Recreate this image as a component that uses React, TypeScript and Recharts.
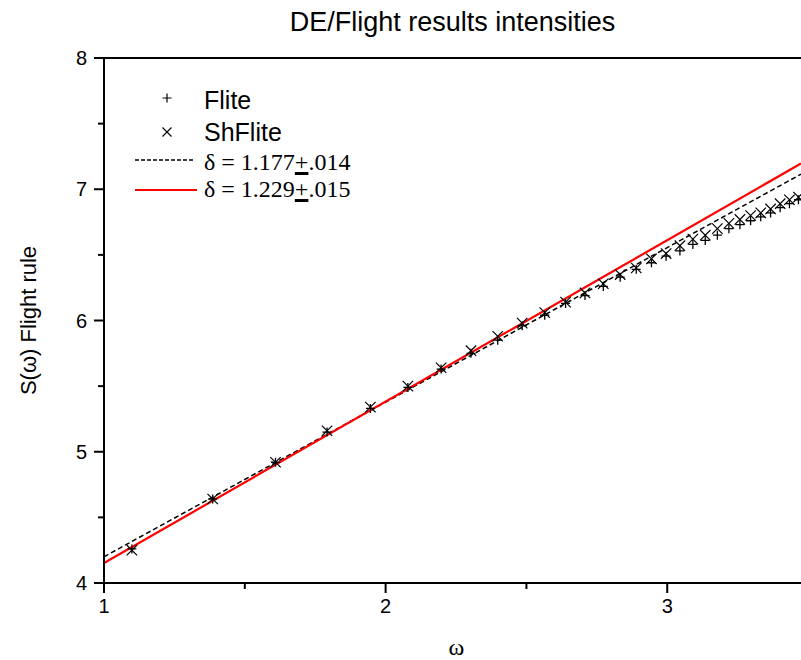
import {
  ComposedChart,
  Scatter,
  Line,
  XAxis,
  YAxis,
  ReferenceLine,
  Legend,
} from "recharts"

// omega values of the measured points
const omega = [
  1.099, 1.386, 1.609, 1.792, 1.946, 2.079, 2.197, 2.303, 2.398, 2.485,
  2.565, 2.639, 2.708, 2.773, 2.833, 2.89, 2.944, 2.996, 3.045, 3.091,
  3.135, 3.178, 3.219, 3.258, 3.296, 3.332, 3.367, 3.401, 3.434, 3.466,
]

// S(omega), Flite (+)
const flite = [
  4.26, 4.64, 4.92, 5.15, 5.33, 5.49, 5.63, 5.75, 5.85, 5.96,
  6.04, 6.13, 6.19, 6.26, 6.33, 6.39, 6.44, 6.49, 6.53, 6.58,
  6.61, 6.65, 6.7, 6.73, 6.76, 6.79, 6.82, 6.86, 6.89, 6.92,
]

// S(omega), ShFlite (x)
const shFlite = [
  4.25, 4.64, 4.92, 5.16, 5.34, 5.5, 5.64, 5.77, 5.88, 5.98,
  6.06, 6.14, 6.21, 6.28, 6.35, 6.4, 6.47, 6.51, 6.57, 6.62,
  6.65, 6.7, 6.74, 6.77, 6.8, 6.82, 6.85, 6.89, 6.92, 6.94,
]

// fitted lines, end points
const fitX = [1, 3.475]
const fitDashed = [4.2, 7.115]
const fitRed = [4.152, 7.196]

const xTicks = [1, 1.5, 2, 2.5, 3]
const yTicks = [4, 4.5, 5, 5.5, 6, 6.5, 7, 7.5, 8]

const title = "DE/Flight results intensities"
const yLabel = "S(\u03c9) Flight rule"
const xLabel = "\u03c9"

const sans = "'Liberation Sans', Arial, sans-serif"
const serif = "'Liberation Serif', 'Times New Roman', serif"

const flitePts = omega.map((x, i) => ({ x, y: flite[i] }))
const shFlitePts = omega.map((x, i) => ({ x, y: shFlite[i] }))
const dashedPts = fitX.map((x, i) => ({ x, y: fitDashed[i] }))
const redPts = fitX.map((x, i) => ({ x, y: fitRed[i] }))

const TICK = 10
const X_MARGIN = 6
const Y_MARGIN = 7

function XTick(props: any) {
  const { x, y, payload } = props
  const v = payload.value
  const major = Number.isInteger(v)
  const axisY = y - TICK - X_MARGIN
  return (
    <g>
      <line x1={x} x2={x} y1={axisY} y2={axisY + (major ? TICK : 6)} stroke="#000" strokeWidth={2} />
      {major && (
        <text x={x} y={y} dy="0.71em" textAnchor="middle" fontFamily={sans} fontSize={20} fill="#000">
          {v}
        </text>
      )}
    </g>
  )
}

function YTick(props: any) {
  const { x, y, payload } = props
  const v = payload.value
  const major = Number.isInteger(v)
  const axisX = x + TICK + Y_MARGIN
  return (
    <g>
      <line x1={axisX - (major ? TICK : 6)} x2={axisX} y1={y} y2={y} stroke="#000" strokeWidth={2} />
      {major && (
        <text x={x} y={y} dy="0.355em" textAnchor="end" fontFamily={sans} fontSize={20} fill="#000">
          {v}
        </text>
      )}
    </g>
  )
}

function PlusShape(props: any) {
  const { cx, cy } = props
  const r = 4.5
  return (
    <path
      d={`M${cx - r},${cy}L${cx + r},${cy}M${cx},${cy - r}L${cx},${cy + r}`}
      stroke="#000"
      strokeWidth={1.3}
      fill="none"
    />
  )
}

function CrossShape(props: any) {
  const { cx, cy } = props
  const r = 5.2
  return (
    <path
      d={`M${cx - r},${cy - r}L${cx + r},${cy + r}M${cx - r},${cy + r}L${cx + r},${cy - r}`}
      stroke="#000"
      strokeWidth={1.2}
      fill="none"
    />
  )
}

function LegendBox() {
  const row = (top: number, child: any) => (
    <div style={{ position: "absolute", left: 74, top: top - 15, height: 30, lineHeight: "30px", whiteSpace: "nowrap" }}>
      {child}
    </div>
  )
  const pm = (
    <span style={{ textDecoration: "underline", textDecorationThickness: "3px", textUnderlineOffset: "2px" }}>+</span>
  )
  return (
    <div style={{ position: "relative", width: 260, height: 130, color: "#000" }}>
      <svg width={260} height={130} style={{ position: "absolute", left: 0, top: 0 }}>
        <path d="M32.5,18L41.5,18M37,13.5L37,22.5" stroke="#000" strokeWidth={1.2} />
        <path d="M32.5,47.5L41.5,56.5M32.5,56.5L41.5,47.5" stroke="#000" strokeWidth={1.1} />
        <line x1={5} x2={63} y1={80} y2={80} stroke="#000" strokeWidth={1.5} strokeDasharray="4 2" />
        <line x1={5} x2={67} y1={110} y2={110} stroke="#ff0000" strokeWidth={2.2} />
      </svg>
      {row(19.5, <span style={{ fontFamily: sans, fontSize: 25 }}>Flite</span>)}
      {row(51.5, <span style={{ fontFamily: sans, fontSize: 25 }}>ShFlite</span>)}
      {row(82, <span style={{ fontFamily: serif, fontSize: 24 }}>{"\u03b4 = 1.177"}{pm}{".014"}</span>)}
      {row(109, <span style={{ fontFamily: serif, fontSize: 24 }}>{"\u03b4 = 1.229"}{pm}{".015"}</span>)}
    </div>
  )
}

export default function App() {
  return (
    <div style={{ position: "absolute", left: 0, top: 0, width: 801, height: 660, background: "#fff" }}>
      <ComposedChart
        width={801}
        height={660}
        margin={{ top: 58, right: 0, bottom: 0, left: 0 }}
      >
        <XAxis
          type="number"
          dataKey="x"
          domain={[1, 3.475]}
          allowDataOverflow
          ticks={xTicks}
          interval={0}
          tickSize={TICK}
          tickMargin={X_MARGIN}
          tickLine={false}
          tick={<XTick />}
          axisLine={{ stroke: "#000", strokeWidth: 2 }}
          height={77}
          label={{
            content: (p: any) => (
              <text
                x={p.viewBox.x + p.viewBox.width / 2 + 4}
                y={655}
                textAnchor="middle"
                fontFamily={serif}
                fontSize={24}
                fill="#000"
              >
                {xLabel}
              </text>
            ),
          }}
        />
        <YAxis
          type="number"
          domain={[4, 8]}
          allowDataOverflow
          ticks={yTicks}
          interval={0}
          tickSize={TICK}
          tickMargin={Y_MARGIN}
          tickLine={false}
          tick={<YTick />}
          axisLine={{ stroke: "#000", strokeWidth: 2 }}
          width={104}
          label={{
            content: (p: any) => {
              const cy = p.viewBox.y + p.viewBox.height / 2
              return (
                <text
                  x={36}
                  y={cy}
                  transform={`rotate(-90, 36, ${cy})`}
                  textAnchor="middle"
                  fontFamily={sans}
                  fontSize={22}
                  fill="#000"
                >
                  {yLabel}
                </text>
              )
            },
          }}
        />
        <ReferenceLine
          y={8}
          stroke="#000"
          strokeWidth={2}
          label={{
            content: (p: any) => (
              <text
                x={p.viewBox.x + p.viewBox.width / 2}
                y={31}
                textAnchor="middle"
                fontFamily={sans}
                fontSize={27}
                fill="#000"
              >
                {title}
              </text>
            ),
          }}
        />
        <Scatter name="Flite" data={flitePts} dataKey="y" shape={<PlusShape />} isAnimationActive={false} />
        <Scatter name="ShFlite" data={shFlitePts} dataKey="y" shape={<CrossShape />} isAnimationActive={false} />
        <Line
          data={dashedPts}
          dataKey="y"
          type="linear"
          stroke="#000"
          strokeWidth={1.5}
          strokeDasharray="5 3"
          dot={false}
          activeDot={false}
          isAnimationActive={false}
        />
        <Line
          data={redPts}
          dataKey="y"
          type="linear"
          stroke="#ff0000"
          strokeWidth={2.2}
          dot={false}
          activeDot={false}
          isAnimationActive={false}
        />
        <Legend
          layout="horizontal"
          align="center"
          verticalAlign="middle"
          content={() => <LegendBox />}
          wrapperStyle={{ position: "absolute", left: 130, top: 80, width: 260, height: 130 }}
        />
      </ComposedChart>
    </div>
  )
}
